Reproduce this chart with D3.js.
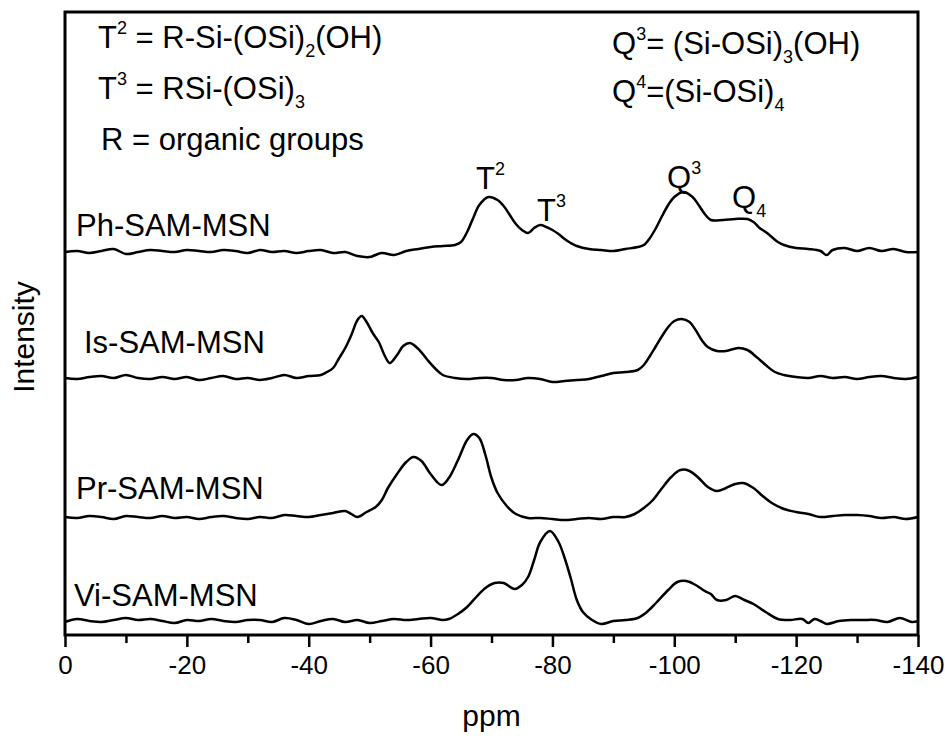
<!DOCTYPE html>
<html>
<head>
<meta charset="utf-8">
<script src="https://cdn.jsdelivr.net/npm/d3@7"></script>
<style>
  body { margin: 0; background: #fff; }
  text { font-family: "Liberation Sans", Arial, sans-serif; fill: #000; }
</style>
</head>
<body>
<script>
// chemical shift (ppm) and baseline-relative intensity
var phPpm = [0,-2,-4,-6,-8,-10,-12,-14,-16,-18,-20,-22,-24,-26,-28,-30,-32,-34,-36,-38,-40,-42,-44,-46,-48,-50,-52,-54,-56,-58,-60,-62,-64,-65,-66,-67,-68,-69.5,-71,-72,-73,-74,-75,-76,-77,-78,-79,-80,-81,-82,-83,-84,-86,-88,-90,-92,-94,-95,-96,-97,-98,-99,-100,-101.5,-103,-104,-105,-106,-108,-110,-112,-113,-114,-115,-116,-117,-118,-120,-122,-124,-125,-126,-128,-130,-132,-134,-136,-138,-140];
var phInt = [0,1,-1,1,3,-2,0,2,1,0,2,1,0,2,1,-1,2,0,1,-1,1,2,-1,0,-4,-5,-1,-3,1,3,5,6,7,10,20,34,47,55,52,46,37,28,22,19,24,27,25,22,18,13,9,6,3,2,1,3,5,7,14,24,36,47,55,60,55,47,38,32,32,33,33,30,24,20,15,10,7,4,3,1,-3,2,4,1,4,1,3,0,0];

var isPpm = [0,-2,-4,-6,-8,-10,-12,-14,-16,-18,-20,-22,-24,-26,-28,-30,-32,-34,-36,-38,-40,-42,-43,-44,-45,-46,-47,-48,-48.7,-49.5,-50.5,-51.5,-52.5,-53.3,-54.5,-55.5,-56.6,-58,-59.5,-61,-62,-64,-66,-68,-70,-72,-74,-76,-78,-80,-82,-84,-86,-88,-90,-92,-94,-95,-96,-97,-98,-99,-100,-101.2,-102.5,-103.5,-104.5,-105.5,-107,-108.5,-110.5,-112,-113.5,-115,-116.5,-118,-120,-122,-124,-126,-128,-130,-132,-134,-136,-138,-140];
var isInt = [0,-1,1,2,0,3,0,-1,1,-1,1,-2,0,2,-1,0,-2,0,3,0,2,3,6,10,20,30,43,58,62,56,45,36,22,15,23,32,35,29,18,8,3,0,-1,0,0,-2,-2,0,-1,-4,-3,-2,-1,2,5,6,8,13,22,32,42,51,57,59,56,48,38,31,27,27,30,28,21,13,6,3,1,0,2,0,1,-1,1,2,0,-1,1];

var prPpm = [0,-2,-4,-6,-8,-10,-12,-14,-16,-18,-20,-22,-24,-26,-28,-30,-32,-34,-36,-38,-40,-42,-44,-46,-47,-48,-49.5,-51,-52,-53,-54.5,-56,-57.2,-58.5,-60,-61.8,-63,-64.5,-66,-67,-68,-69,-70,-71,-72.5,-74,-76,-78,-80,-82,-84,-86,-88,-90,-92,-93.5,-95,-96.5,-98,-99.5,-101,-102.5,-104,-105.5,-107,-108.5,-110,-111.3,-113,-114.5,-116,-118,-120,-122,-124,-126,-128,-130,-132,-134,-136,-138,-140];
var prInt = [0,-1,1,0,-2,1,0,-1,1,-1,0,-2,0,1,-1,-2,0,-1,2,1,0,2,4,6,3,0,5,10,17,29,43,55,60,56,43,32,39,57,77,83,79,62,39,24,11,3,-1,-1,-2,-3,-2,-1,-2,0,0,3,9,17,29,40,47,46,39,30,26,29,33,34,29,21,14,8,5,3,0,1,2,2,1,-1,0,-2,0];

var viPpm = [0,-2,-4,-6,-8,-10,-12,-14,-16,-18,-20,-22,-24,-26,-28,-30,-32,-34,-36,-38,-40,-42,-44,-46,-48,-50,-52,-54,-56,-58,-60,-62,-63,-64.5,-66,-67.5,-69,-70.5,-72,-73.8,-75,-76,-77,-78,-79.6,-81,-82,-83,-84,-85,-86.5,-88,-90,-92,-94,-95.5,-97,-99,-100.5,-102,-103.5,-105,-106,-107,-108.5,-110,-111.5,-113,-115,-117,-119,-121,-122,-123,-124,-125,-127,-129,-131,-133,-135,-137,-139,-140];
var viInt = [-1,2,0,-1,1,3,1,2,0,-2,1,0,2,0,-1,1,1,-1,3,1,-3,0,2,-1,1,-2,0,2,1,2,3,1,2,7,14,24,33,38,38,32,36,44,61,79,90,79,63,43,21,9,1,-3,0,1,3,9,18,31,39,40,36,30,27,21,21,25,21,17,9,2,1,2,-2,2,0,-3,0,1,1,1,-1,3,-1,0];

var sampleNames = ["Ph-SAM-MSN", "Is-SAM-MSN", "Pr-SAM-MSN", "Vi-SAM-MSN"];
var sampleOffsets = [383, 257, 118, 14];   // vertical stacking of traces
var xTicks = [0, -20, -40, -60, -80, -100, -120, -140];
var xMinorTicks = [-10, -30, -50, -70, -90, -110, -130];

var series = [
  {name: sampleNames[0], ppm: phPpm, val: phInt, off: sampleOffsets[0]},
  {name: sampleNames[1], ppm: isPpm, val: isInt, off: sampleOffsets[1]},
  {name: sampleNames[2], ppm: prPpm, val: prInt, off: sampleOffsets[2]},
  {name: sampleNames[3], ppm: viPpm, val: viInt, off: sampleOffsets[3]}
];

var margin = {left: 65, top: 12, right: 27, bottom: 106};
var width = 945 - margin.left - margin.right;
var height = 741 - margin.top - margin.bottom;

var x = d3.scaleLinear().domain([0, -140]).range([0, width]);
var y = d3.scaleLinear().domain([0, 623]).range([height, 0]);

var svg = d3.select("body").append("svg").attr("width", 945).attr("height", 741);
var g = svg.append("g").attr("transform", "translate(" + margin.left + "," + margin.top + ")");

var line = d3.line()
    .x(function(d){ return x(d[0]); })
    .y(function(d){ return y(d[1]); })
    .curve(d3.curveCatmullRom.alpha(0.5));

series.forEach(function(s){
  var pts = s.ppm.map(function(p, i){ return [p, s.val[i] + s.off]; });
  g.append("path")
    .attr("d", line(pts))
    .attr("fill", "none")
    .attr("stroke", "#000")
    .attr("stroke-width", 2.5)
    .attr("stroke-linejoin", "round");
});

// axes
var xAxis = d3.axisBottom(x).tickValues(xTicks).tickSize(12).tickPadding(9)
    .tickFormat(function(d){ return d === 0 ? "0" : "-" + Math.abs(d); });
var xAxisMinor = d3.axisBottom(x).tickValues(xMinorTicks).tickSize(8).tickFormat("");

var ax = g.append("g").attr("transform", "translate(0," + height + ")").call(xAxis);
ax.select(".domain").remove();
ax.selectAll("line").attr("stroke-width", 2.5);
ax.selectAll("text").style("font-size", "26px").attr("fill", "#000");
var axm = g.append("g").attr("transform", "translate(0," + height + ")").call(xAxisMinor);
axm.select(".domain").remove();
axm.selectAll("line").attr("stroke-width", 2.5);

g.append("rect").attr("width", width).attr("height", height)
  .attr("fill", "none").attr("stroke", "#000").attr("stroke-width", 3);

svg.append("text").attr("x", margin.left + width / 2).attr("y", 726)
  .attr("text-anchor", "middle").style("font-size", "30px").text("ppm");
svg.append("text").attr("transform", "translate(34,337) rotate(-90)")
  .attr("text-anchor", "middle").style("font-size", "30px").text("Intensity");

// sample labels
var labelPos = [[76, 236], [84, 353], [76, 499], [74, 606]];
sampleNames.forEach(function(n, i){
  svg.append("text").attr("x", labelPos[i][0]).attr("y", labelPos[i][1])
    .style("font-size", "31px").text(n);
});

// rich text helper: parts = [text, mode]
function rich(xp, yp, parts, size){
  var t = svg.append("text").attr("x", xp).attr("y", yp).style("font-size", size + "px");
  parts.forEach(function(p){
    var sp = t.append("tspan").text(p[0]);
    if (p[1] === "sup") sp.style("font-size", (size * 0.58) + "px").attr("dy", -size * 0.45);
    if (p[1] === "sub") sp.style("font-size", (size * 0.58) + "px").attr("dy", size * 0.3);
    if (p[1] === "supEnd") sp.attr("dy", size * 0.45);
    if (p[1] === "subEnd") sp.attr("dy", -size * 0.3);
  });
}

rich(98, 48, [["T",""],["2","sup"],[" = R-Si-(OSi)","supEnd"],["2","sub"],["(OH)","subEnd"]], 31);
rich(98, 99, [["T",""],["3","sup"],[" = RSi-(OSi)","supEnd"],["3","sub"]], 31);
rich(101, 150, [["R = organic groups",""]], 31);
rich(612, 54, [["Q",""],["3","sup"],["= (Si-OSi)","supEnd"],["3","sub"],["(OH)","subEnd"]], 31);
rich(612, 102, [["Q",""],["4","sup"],["=(Si-OSi)","supEnd"],["4","sub"]], 31);

// peak labels
rich(476, 189, [["T",""],["2","sup"]], 31);
rich(537, 221, [["T",""],["3","sup"]], 31);
rich(667, 188, [["Q",""],["3","sup"]], 31);
rich(732, 208, [["Q",""],["4","sub"]], 31);
</script>
</body>
</html>
